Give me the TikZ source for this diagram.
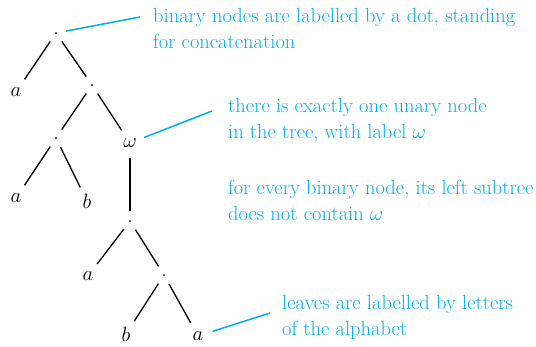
\documentclass[tikz,border=0pt]{standalone}
\definecolor{annot}{RGB}{0,174,239}
\begin{document}
\begin{tikzpicture}[x=1pt,y=-1pt,
  bin/.style={circle,minimum size=20pt,inner sep=0pt},
  leaf/.style={circle,minimum size=30pt,inner sep=0pt,font=\fontsize{21}{24}\selectfont},
  edge/.style={line width=1.3pt,black},
  note/.style={anchor=base west,inner sep=0pt,text=annot,font=\fontsize{20.5}{26}\selectfont,align=left},
  pointer/.style={line width=1.5pt,annot}]
\useasboundingbox (0,0) rectangle (536,346);
% tree nodes
\node[bin] (r) at (56,33) {};
\node[leaf] (a1) at (16,92) {$a$};
\node[bin] (d2) at (92,85) {};
\node[bin] (d3) at (56,138) {};
\node[leaf] (w) at (130,143) {$\omega$};
\node[leaf] (a2) at (16,198) {$a$};
\node[leaf] (b1) at (87,201) {$b$};
\node[bin] (d4) at (130,221) {};
\node[leaf] (a3) at (88,276) {$a$};
\node[bin] (d5) at (164,275) {};
\node[leaf] (b2) at (126,334) {$b$};
\node[leaf] (a4) at (198,336) {$a$};
\foreach \n in {r,d2,d3,d4,d5} \fill (\n.center) circle (1pt);
% edges
\draw[edge] (r) -- (a1);
\draw[edge] (r) -- (d2);
\draw[edge] (d2) -- (d3);
\draw[edge] (d2) -- (w);
\draw[edge] (d3) -- (a2);
\draw[edge] (d3) -- (b1);
\draw[edge] (w) -- (d4);
\draw[edge] (d4) -- (a3);
\draw[edge] (d4) -- (d5);
\draw[edge] (d5) -- (b2);
\draw[edge] (d5) -- (a4);
% annotations (anchor = baseline of last line)
\node[note] (n1) at (153,48) {binary nodes are labelled by a dot, standing\\for concatenation};
\node[note] (n2) at (228,138) {there is exactly one unary node\\in the tree, with label $\omega$};
\node[note] (n3) at (228,220) {for every binary node, its left subtree\\does not contain $\omega$};
\node[note] (n4) at (282,335) {leaves are labelled by letters\\of the alphabet};
\coordinate (p1) at (140,17);
\coordinate (p2) at (212,111);
\coordinate (p4) at (270,313);
\draw[pointer] (r) -- (p1);
\draw[pointer] (w) -- (p2);
\draw[pointer] (a4) -- (p4);
\end{tikzpicture}
\end{document}
